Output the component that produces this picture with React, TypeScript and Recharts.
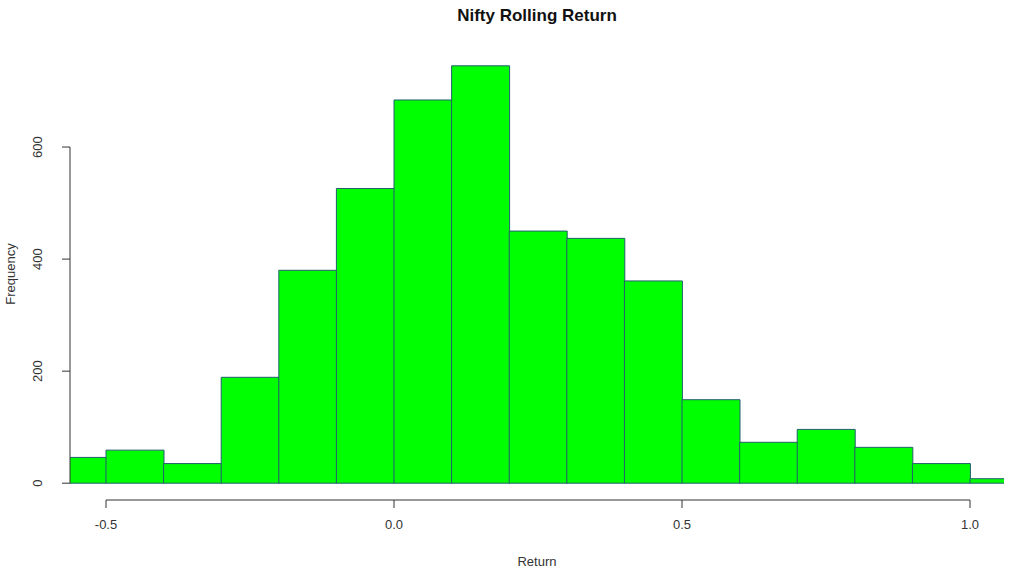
import { BarChart, Bar, XAxis, YAxis, ReferenceLine } from 'recharts'

// histogram bins (centres, width 0.1) and counts
const binMids = [-0.55, -0.45, -0.35, -0.25, -0.15, -0.05, 0.05, 0.15, 0.25, 0.35, 0.45, 0.55, 0.65, 0.75, 0.85, 0.95, 1.05]
const counts = [46, 59, 35, 189, 380, 526, 684, 745, 450, 437, 361, 149, 73, 96, 64, 35, 8]
const xTicks = [-0.5, 0, 0.5, 1.0]
const yTicks = [0, 200, 400, 600]

const data = binMids.map((mid, i) => ({ mid, count: counts[i] }))

const ink = '#333333'
const font = '"Liberation Sans", Arial, sans-serif'
const xMin = -0.5625
const xMax = 1.059

function XTick(props: any) {
  const { x, y, payload } = props
  return (
    <text x={x} y={y + 19} textAnchor="middle" fontSize={13} fill={ink} fontFamily={font}>
      {payload.value === 0 ? '0.0' : payload.value.toFixed(1)}
    </text>
  )
}

function YTick(props: any) {
  const { x, y, payload } = props
  return (
    <text
      x={x - 18}
      y={y}
      textAnchor="middle"
      fontSize={13}
      fill={ink}
      fontFamily={font}
      transform={`rotate(-90, ${x - 18}, ${y})`}
    >
      {payload.value}
    </text>
  )
}

export default function App() {
  return (
    <div style={{ width: 1024, height: 577, position: 'relative', background: '#fff' }}>
      <style>{'body{margin:0}'}</style>
      <BarChart
        width={1024}
        height={577}
        data={data}
        margin={{ top: 49, right: 20, bottom: 0, left: 0 }}
        barCategoryGap={0}
        barGap={0}
      >
        <text x={537} y={21} textAnchor="middle" fontSize={17} fontWeight="bold" fill="#111" fontFamily={font}>
          Nifty Rolling Return
        </text>
        <XAxis
          dataKey="mid"
          type="number"
          domain={[xMin, xMax]}
          allowDataOverflow
          ticks={xTicks}
          axisLine={false}
          tickLine={{ stroke: ink }}
          tickSize={8}
          tick={<XTick />}
          height={77}
          interval={0}
        />
        <YAxis
          type="number"
          domain={[-30, 775]}
          allowDataOverflow
          ticks={yTicks}
          axisLine={false}
          tickLine={{ stroke: ink }}
          tickSize={8}
          tick={<YTick />}
          width={70}
          interval={0}
        />
        <Bar
          dataKey="count"
          fill="#00ff00"
          stroke="#22606e"
          strokeWidth={1}
          isAnimationActive={false}
        />
        <ReferenceLine
          segment={[{ x: -0.5, y: -30 }, { x: 1.0, y: -30 }]}
          stroke={ink}
          ifOverflow="visible"
        />
        <ReferenceLine
          segment={[{ x: xMin, y: 0 }, { x: xMin, y: 600 }]}
          stroke={ink}
          ifOverflow="visible"
        />
      </BarChart>
      <div
        style={{
          position: 'absolute', left: 0, width: 1074, top: 554, textAlign: 'center',
          fontSize: 13, color: ink, fontFamily: font,
        }}
      >
        Return
      </div>
      <div
        style={{
          position: 'absolute', left: 10, top: 274, transform: 'translate(-50%, -50%) rotate(-90deg)',
          fontSize: 13, color: ink, fontFamily: font, whiteSpace: 'nowrap',
        }}
      >
        Frequency
      </div>
    </div>
  )
}
